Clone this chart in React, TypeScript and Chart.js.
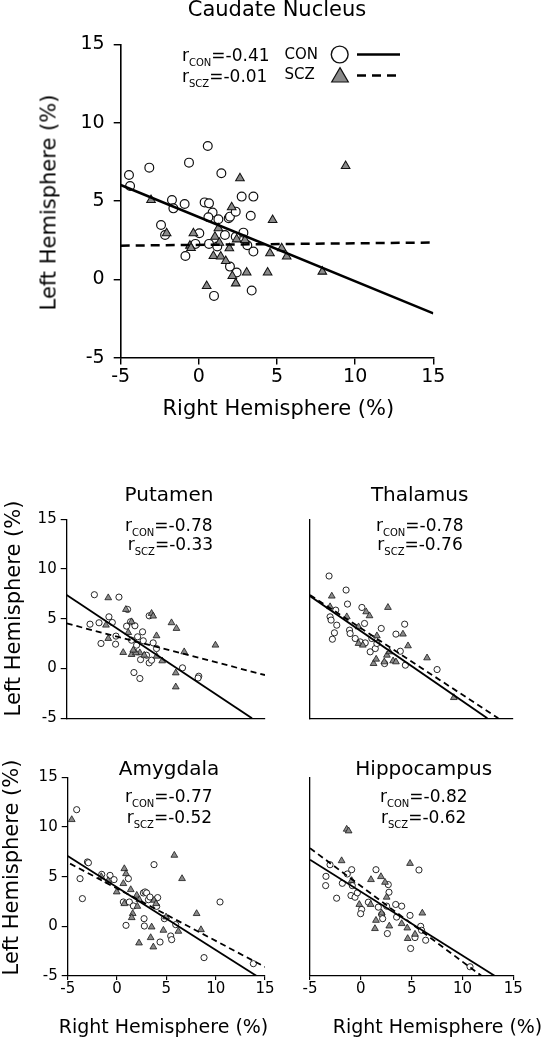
import React, { useEffect, useRef } from "react";
import { Chart, registerables } from "chart.js";

Chart.register(...registerables);

const FONT = '"DejaVu Sans", "Liberation Sans", sans-serif';
Chart.defaults.font.family = FONT;

type Pt = [number, number];

// ---------- shared axis ticks ----------
const xTickValues = [-5, 0, 5, 10, 15];
const yTickValues = [-5, 0, 5, 10, 15];

// ---------- Caudate Nucleus ----------
const caudateCon: Pt[] = [
  [-4.47, 6.66], [-4.4, 5.96], [-3.17, 7.13], [-0.63, 7.45], [0.57, 8.51], [1.44, 6.77],
  [-2.42, 3.47], [-2.16, 2.83], [-1.72, 5.06], [-1.63, 4.53], [-0.91, 4.81], [0.37, 4.91],
  [0.65, 4.85], [0.88, 4.26], [0.61, 3.96], [1.25, 3.83], [0.03, 2.94], [-0.22, 2.26],
  [-0.86, 1.49], [0.65, 2.26], [1.18, 2.09], [1.67, 2.83], [1.91, 3.9], [1.99, 4.0],
  [2.36, 4.32], [2.74, 5.28], [3.49, 5.28], [3.32, 4.06], [2.85, 2.98], [2.36, 2.72],
  [3.1, 2.17], [3.49, 1.77], [1.99, 0.81], [2.42, 0.43], [0.97, -1.06], [3.38, -0.72],
];
const caudateScz: Pt[] = [
  [-3.06, 5.06], [-2.06, 2.94], [-0.35, 2.94], [-0.57, 2.15], [-0.5, 2.0], [2.63, 6.45],
  [2.1, 4.6], [4.72, 3.79], [9.39, 7.23], [1.25, 3.26], [1.03, 2.72], [1.31, 2.34],
  [1.95, 1.98], [0.93, 1.49], [1.4, 1.45], [1.72, 1.17], [2.14, 0.21], [2.36, -0.26],
  [3.06, 0.43], [4.4, 0.43], [4.55, 1.66], [5.3, 1.98], [5.62, 1.45], [7.9, 0.49],
  [0.5, -0.43], [2.95, 2.51], [2.42, 2.55],
];
const caudateConFit: Pt[] = [[-5, 6.02], [15, -2.17]];
const caudateSczFit: Pt[] = [[-5, 2.15], [15, 2.35]];

// ---------- Putamen ----------
const putamenCon: Pt[] = [
  [-2.21, 7.42], [0.27, 7.18], [-2.65, 4.46], [-1.74, 4.6], [-0.74, 5.2], [-0.4, 4.63],
  [-1.54, 2.52], [-0.03, 3.26], [-0.07, 2.45], [1.14, 5.94], [1.44, 4.7], [1.04, 4.26],
  [1.88, 4.3], [2.65, 3.69], [2.15, 3.19], [1.54, 2.85], [2.72, 2.79], [2.05, 2.35],
  [3.32, 5.3], [3.72, 2.58], [4.06, 2.01], [2.45, 0.9], [3.32, 0.57], [3.56, 0.84],
  [3.05, 1.34], [1.78, -0.4], [2.38, -1.0], [6.68, 0.07], [8.32, -0.77], [8.25, -0.95],
];
const putamenScz: Pt[] = [
  [-0.81, 7.11], [0.97, 5.94], [1.54, 4.7], [-1.04, 4.36], [-0.81, 3.02], [1.21, 3.62],
  [3.56, 5.54], [3.72, 5.27], [4.06, 3.29], [5.57, 4.6], [6.07, 4.03], [6.85, 1.68],
  [10.0, 2.35], [0.7, 1.61], [1.54, 1.41], [2.38, 1.58], [2.82, 1.34], [4.06, 1.24],
  [4.63, 0.77], [1.98, 1.58], [6.0, -0.44], [6.0, -1.85], [1.71, 1.85],
];
const putamenConFit: Pt[] = [[-5, 7.38], [13.69, -5]];
const putamenSczFit: Pt[] = [[-5, 4.53], [15, -0.65]];

// ---------- Thalamus ----------
const thalamusCon: Pt[] = [
  [-3.12, 9.3], [-1.44, 7.89], [-1.3, 6.48], [-2.46, 5.87], [-3.02, 5.2], [-2.92, 4.87],
  [-2.36, 4.36], [-2.59, 3.59], [-2.79, 2.95], [-1.1, 3.86], [-1.04, 3.52], [0.12, 6.14],
  [0.38, 4.53], [-0.54, 3.02], [-0.05, 2.68], [0.45, 2.58], [0.94, 1.68], [1.44, 2.01],
  [1.6, 2.52], [1.1, 3.02], [2.03, 4.03], [3.48, 3.46], [4.34, 4.46], [3.91, 1.74],
  [2.36, 0.5], [4.41, 0.34], [7.54, -0.1],
];
const thalamusScz: Pt[] = [
  [-2.85, 7.28], [-3.02, 6.21], [-1.37, 5.2], [0.54, 5.7], [0.87, 5.3], [2.69, 6.14],
  [4.17, 3.46], [4.67, 2.28], [6.55, 1.07], [-0.21, 2.52], [0.21, 2.35], [1.6, 3.29],
  [2.59, 1.34], [2.85, 1.68], [1.27, 0.5], [1.53, 0.94], [2.33, 0.67], [3.2, 0.77],
  [3.48, 0.67], [9.19, -2.92], [-0.21, 4.19],
];
const thalamusConFit: Pt[] = [[-5, 7.28], [12.5, -5]];
const thalamusSczFit: Pt[] = [[-5, 7.4], [13.58, -5]];

// ---------- Amygdala ----------
const amygdalaCon: Pt[] = [
  [-4.09, 11.74], [-3.75, 4.8], [-3.51, 2.79], [-3.0, 6.48], [-2.9, 6.4], [-1.55, 5.23],
  [-0.71, 5.13], [-0.3, 4.7], [1.15, 4.8], [0.64, 2.45], [0.91, 0.1], [1.25, 2.45],
  [1.66, 2.05], [2.67, 3.36], [2.84, 3.46], [3.0, 3.36], [3.18, 2.68], [2.74, 0.77],
  [2.77, 0.03], [3.75, 6.21], [4.12, 2.89], [4.02, 2.01], [4.36, -1.58], [4.8, 0.77],
  [5.44, -0.97], [5.54, -1.34], [5.95, 0.17], [8.82, -3.15], [10.44, 2.45], [13.82, -3.76],
  [3.34, 2.95],
];
const amygdalaScz: Pt[] = [
  [-4.59, 10.74], [0.74, 5.8], [0.91, 5.3], [0.64, 4.3], [-0.03, 3.46], [1.39, 3.69],
  [2.0, 3.12], [2.26, 2.68], [2.06, 2.01], [1.59, 1.28], [1.49, 0.87], [0.74, 2.28],
  [3.75, 2.62], [3.95, 2.28], [3.51, -0.07], [3.41, -1.14], [3.68, -2.08], [2.23, -1.68],
  [4.7, -0.4], [5.81, 7.15], [6.59, 4.8], [8.07, 1.28], [8.51, -0.34], [6.22, -0.5],
  [4.97, 0.94], [-1.6, 5.0], [-0.9, 4.6],
];
const amygdalaConFit: Pt[] = [[-5, 7.08], [14.16, -5]];
const amygdalaSczFit: Pt[] = [[-4.76, 6.31], [15, -4.09]];

// ---------- Hippocampus ----------
const hippoCon: Pt[] = [
  [-3.03, 6.2], [-3.43, 5.03], [-3.46, 4.1], [-2.38, 2.83], [-1.82, 4.33], [-1.33, 5.27],
  [-0.9, 5.7], [-0.84, 4.1], [-0.97, 3.1], [-0.57, 2.93], [-0.34, 3.37], [0.08, 1.7],
  [-0.02, 1.27], [0.74, 2.43], [1.49, 5.7], [1.72, 1.93], [2.05, 1.2], [2.15, 0.77],
  [2.61, -0.73], [2.7, 4.2], [2.77, 3.43], [2.54, 2.03], [3.43, 2.2], [4.02, 2.03],
  [3.52, 0.93], [4.84, 1.1], [4.9, -2.23], [5.72, 5.67], [5.89, 0.0], [5.98, -0.4],
  [5.33, -1.13], [6.38, -1.4], [10.74, -4.07],
];
const hippoScz: Pt[] = [
  [-1.39, 9.77], [-1.2, 9.6], [-1.89, 6.6], [-0.9, 4.6], [-0.15, 2.2], [1.0, 4.7],
  [1.98, 5.0], [2.38, 4.43], [2.54, 2.93], [0.97, 2.2], [2.05, 1.33], [1.49, 0.6],
  [1.39, -0.23], [2.8, 0.03], [4.02, 0.27], [4.57, -0.17], [4.61, -1.23], [4.84, 6.33],
  [5.33, -0.8], [6.05, 1.33],
];
const hippoConFit: Pt[] = [[-5, 6.7], [13.2, -5]];
const hippoSczFit: Pt[] = [[-5, 7.87], [11.89, -5]];

// ---------- text ----------
const panelTitles = ["Caudate Nucleus", "Putamen", "Thalamus", "Amygdala", "Hippocampus"];
const rCon = ["-0.41", "-0.78", "-0.78", "-0.77", "-0.82"];
const rScz = ["-0.01", "-0.33", "-0.76", "-0.52", "-0.62"];
const yTitle = "Left Hemisphere (%)";
const xTitle = "Right Hemisphere (%)";
const groupNames = ["CON", "SCZ"];

interface Box { left: number; top: number; width: number; height: number }
interface Plot { left: number; top: number; right: number; bottom: number }

interface PanelProps {
  con: Pt[]; scz: Pt[]; conFit: Pt[]; sczFit: Pt[];
  canvas: Box; plot: Plot;
  xLabels: boolean; yLabels: boolean; xMarks: boolean; yMarks: boolean;
  tickFont: number; xTickLen: number; yTickLen: number; xPad: number; yPad: number;
  circleR: number; triR: number; markerBW: number; lineW: number; dash: number[]; axisW: number;
  legend?: boolean;
}

const legendPlugin = {
  id: "legendMarks",
  afterDraw(chart: any) {
    const opts = chart.options.plugins.legendMarks;
    if (!opts || !opts.show) return;
    const ctx = chart.ctx as CanvasRenderingContext2D;
    ctx.save();
    // circle
    ctx.beginPath();
    ctx.arc(339.7, 54.5, 8.4, 0, Math.PI * 2);
    ctx.fillStyle = "#fff";
    ctx.fill();
    ctx.lineWidth = 1.4;
    ctx.strokeStyle = "#111";
    ctx.stroke();
    // solid line
    ctx.beginPath();
    ctx.lineWidth = 2.5;
    ctx.strokeStyle = "#000";
    ctx.moveTo(357, 54.5);
    ctx.lineTo(400, 54.5);
    ctx.stroke();
    // triangle
    const r = 9.6, cx = 340, cy = 77.2;
    ctx.beginPath();
    ctx.moveTo(cx, cy - r);
    ctx.lineTo(cx + r * Math.sin((2 * Math.PI) / 3), cy - r * Math.cos((2 * Math.PI) / 3));
    ctx.lineTo(cx + r * Math.sin((4 * Math.PI) / 3), cy - r * Math.cos((4 * Math.PI) / 3));
    ctx.closePath();
    ctx.fillStyle = "#8a8a8a";
    ctx.fill();
    ctx.lineWidth = 1.2;
    ctx.strokeStyle = "#111";
    ctx.stroke();
    // dashed line
    ctx.beginPath();
    ctx.lineWidth = 2.5;
    ctx.strokeStyle = "#000";
    ctx.setLineDash([9, 6]);
    ctx.moveTo(357, 75.5);
    ctx.lineTo(400, 75.5);
    ctx.stroke();
    ctx.restore();
  },
};

function Panel(p: PanelProps) {
  const ref = useRef<HTMLCanvasElement>(null);
  useEffect(() => {
    const c = ref.current;
    if (!c) return;
    const xH = 30;
    const yW = p.plot.left - p.canvas.left;
    const padTop = p.plot.top - p.canvas.top;
    const padRight = p.canvas.left + p.canvas.width - p.plot.right;
    const padBottom = p.canvas.top + p.canvas.height - p.plot.bottom - xH;
    const toXY = (a: Pt[]) => a.map(([x, y]) => ({ x, y }));
    const axis = (vals: number[], labels: boolean, marks: boolean, tickLen: number, pad: number, fit: (s: any) => void) => ({
      type: "linear" as const,
      min: -5,
      max: 15,
      afterBuildTicks: (s: any) => {
        s.ticks = vals.map((v) => ({ value: v }));
      },
      afterFit: fit,
      ticks: {
        display: labels,
        color: "#000",
        padding: pad,
        font: { size: p.tickFont, family: FONT },
        maxRotation: 0,
        autoSkip: false,
        callback: (v: any) => String(v),
      },
      grid: {
        display: marks,
        drawOnChartArea: false,
        drawTicks: marks,
        tickLength: tickLen,
        color: "#000",
        lineWidth: p.axisW * 0.9,
      },
      border: { display: true, color: "#000", width: p.axisW },
    });
    const chart = new Chart(c, {
      type: "scatter",
      data: {
        datasets: [
          {
            data: toXY(p.con),
            pointStyle: "circle",
            pointRadius: p.circleR,
            backgroundColor: "#fff",
            borderColor: "#111",
            pointBackgroundColor: "#fff",
            pointBorderColor: "#111",
            pointBorderWidth: p.markerBW,
            order: 3,
          },
          {
            data: toXY(p.scz),
            pointStyle: "triangle",
            pointRadius: p.triR,
            backgroundColor: "#8a8a8a",
            borderColor: "#111",
            pointBackgroundColor: "#8a8a8a",
            pointBorderColor: "#111",
            pointBorderWidth: p.markerBW * 0.85,
            order: 2,
          },
          {
            data: toXY(p.conFit),
            showLine: true,
            borderColor: "#000",
            borderWidth: p.lineW,
            pointRadius: 0,
            fill: false,
            order: 1,
          },
          {
            data: toXY(p.sczFit),
            showLine: true,
            borderColor: "#000",
            borderWidth: p.lineW,
            borderDash: p.dash,
            pointRadius: 0,
            fill: false,
            order: 0,
          },
        ] as any,
      },
      options: {
        responsive: false,
        animation: false,
        devicePixelRatio: 1,
        events: [],
        layout: { padding: { left: 0, top: padTop, right: padRight, bottom: padBottom } },
        plugins: {
          legend: { display: false },
          tooltip: { enabled: false },
          title: { display: false },
          legendMarks: { show: !!p.legend },
        } as any,
        scales: {
          x: axis(xTickValues, p.xLabels, p.xMarks, p.xTickLen, p.xPad, (s: any) => {
            s.height = xH;
          }),
          y: axis(yTickValues, p.yLabels, p.yMarks, p.yTickLen, p.yPad, (s: any) => {
            s.width = yW;
          }),
        },
      },
      plugins: [legendPlugin],
    });
    return () => chart.destroy();
  }, []);
  return (
    <canvas
      ref={ref}
      width={p.canvas.width}
      height={p.canvas.height}
      style={{ position: "absolute", left: p.canvas.left, top: p.canvas.top, width: p.canvas.width, height: p.canvas.height }}
    />
  );
}

function Txt(props: { cx: number; cy: number; size: number; rot?: boolean; children: React.ReactNode }) {
  const { cx, cy, size, rot, children } = props;
  return (
    <div
      style={{
        position: "absolute",
        left: cx - 200,
        top: cy - size / 2,
        width: 400,
        height: size,
        lineHeight: `${size}px`,
        fontSize: size,
        textAlign: "center",
        whiteSpace: "nowrap",
        transform: rot ? "rotate(-90deg)" : undefined,
      }}
    >
      {children}
    </div>
  );
}

function RLabel(props: { x: number; cy: number; group: string; value: string }) {
  const size = 17;
  return (
    <div
      style={{
        position: "absolute",
        left: props.x,
        top: props.cy - size / 2,
        height: size,
        lineHeight: `${size}px`,
        fontSize: size,
        whiteSpace: "nowrap",
      }}
    >
      r<span style={{ fontSize: 10, position: "relative", top: 5 }}>{props.group}</span>={props.value}
    </div>
  );
}

const bigStyle = {
  tickFont: 19, xTickLen: 7, yTickLen: 7, xPad: 1, yPad: 9,
  circleR: 4.4, triR: 5.0, markerBW: 1.2, lineW: 2.5, dash: [9, 6], axisW: 1.6,
};
const smallStyle = {
  tickFont: 15, xTickLen: 4, yTickLen: 6, xPad: 0, yPad: 4,
  circleR: 3.1, triR: 3.9, markerBW: 0.9, lineW: 1.8, dash: [6, 4], axisW: 1.3,
};

export default function App() {
  return (
    <div
      style={{
        position: "absolute",
        left: 0,
        top: 0,
        width: 541,
        height: 1050,
        background: "#fff",
        fontFamily: FONT,
        color: "#000",
        overflow: "hidden",
      }}
    >
      <Panel
        con={caudateCon} scz={caudateScz} conFit={caudateConFit} sczFit={caudateSczFit}
        canvas={{ left: 0, top: 0, width: 541, height: 440 }}
        plot={{ left: 120.7, top: 44.4, right: 433.3, bottom: 357.6 }}
        xLabels yLabels xMarks yMarks legend
        {...bigStyle}
      />
      <Panel
        con={putamenCon} scz={putamenScz} conFit={putamenConFit} sczFit={putamenSczFit}
        canvas={{ left: 0, top: 470, width: 270, height: 280 }}
        plot={{ left: 66.7, top: 519.3, right: 265, bottom: 718.3 }}
        xLabels={false} yLabels xMarks={false} yMarks
        {...smallStyle}
      />
      <Panel
        con={thalamusCon} scz={thalamusScz} conFit={thalamusConFit} sczFit={thalamusSczFit}
        canvas={{ left: 270, top: 470, width: 271, height: 280 }}
        plot={{ left: 310, top: 519.3, right: 512.7, bottom: 718.3 }}
        xLabels={false} yLabels={false} xMarks={false} yMarks={false}
        {...smallStyle}
      />
      <Panel
        con={amygdalaCon} scz={amygdalaScz} conFit={amygdalaConFit} sczFit={amygdalaSczFit}
        canvas={{ left: 0, top: 740, width: 290, height: 300 }}
        plot={{ left: 67.7, top: 777.3, right: 265, bottom: 976 }}
        xLabels yLabels xMarks yMarks
        {...smallStyle}
      />
      <Panel
        con={hippoCon} scz={hippoScz} conFit={hippoConFit} sczFit={hippoSczFit}
        canvas={{ left: 270, top: 740, width: 271, height: 300 }}
        plot={{ left: 310, top: 777.3, right: 513.3, bottom: 976 }}
        xLabels yLabels={false} xMarks yMarks={false}
        {...smallStyle}
      />

      {/* titles */}
      <Txt cx={277} cy={9.5} size={21}>{panelTitles[0]}</Txt>
      <Txt cx={169} cy={493.5} size={20}>{panelTitles[1]}</Txt>
      <Txt cx={419.7} cy={494} size={20}>{panelTitles[2]}</Txt>
      <Txt cx={169} cy={768} size={20}>{panelTitles[3]}</Txt>
      <Txt cx={423.7} cy={768} size={20}>{panelTitles[4]}</Txt>

      {/* r annotations */}
      <RLabel x={182} cy={55.5} group={groupNames[0]} value={rCon[0]} />
      <RLabel x={182} cy={76} group={groupNames[1]} value={rScz[0]} />
      <RLabel x={125} cy={525.5} group={groupNames[0]} value={rCon[1]} />
      <RLabel x={127.7} cy={544.5} group={groupNames[1]} value={rScz[1]} />
      <RLabel x={376} cy={525.5} group={groupNames[0]} value={rCon[2]} />
      <RLabel x={377.3} cy={544.5} group={groupNames[1]} value={rScz[2]} />
      <RLabel x={125} cy={796.7} group={groupNames[0]} value={rCon[3]} />
      <RLabel x={126.7} cy={817} group={groupNames[1]} value={rScz[3]} />
      <RLabel x={380} cy={796.7} group={groupNames[0]} value={rCon[4]} />
      <RLabel x={381} cy={817} group={groupNames[1]} value={rScz[4]} />

      {/* legend text */}
      <div style={{ position: "absolute", left: 284.5, top: 54 - 7.5, fontSize: 15, lineHeight: "15px" }}>{groupNames[0]}</div>
      <div style={{ position: "absolute", left: 284.5, top: 74 - 7.5, fontSize: 15, lineHeight: "15px" }}>{groupNames[1]}</div>

      {/* axis titles */}
      <Txt cx={48.5} cy={202} size={21} rot>{yTitle}</Txt>
      <Txt cx={278.3} cy={408} size={21}>{xTitle}</Txt>
      <Txt cx={12.5} cy={608} size={21} rot>{yTitle}</Txt>
      <Txt cx={11} cy={867} size={21} rot>{yTitle}</Txt>
      <Txt cx={163.5} cy={1026} size={19}>{xTitle}</Txt>
      <Txt cx={437.5} cy={1026} size={19}>{xTitle}</Txt>
    </div>
  );
}
